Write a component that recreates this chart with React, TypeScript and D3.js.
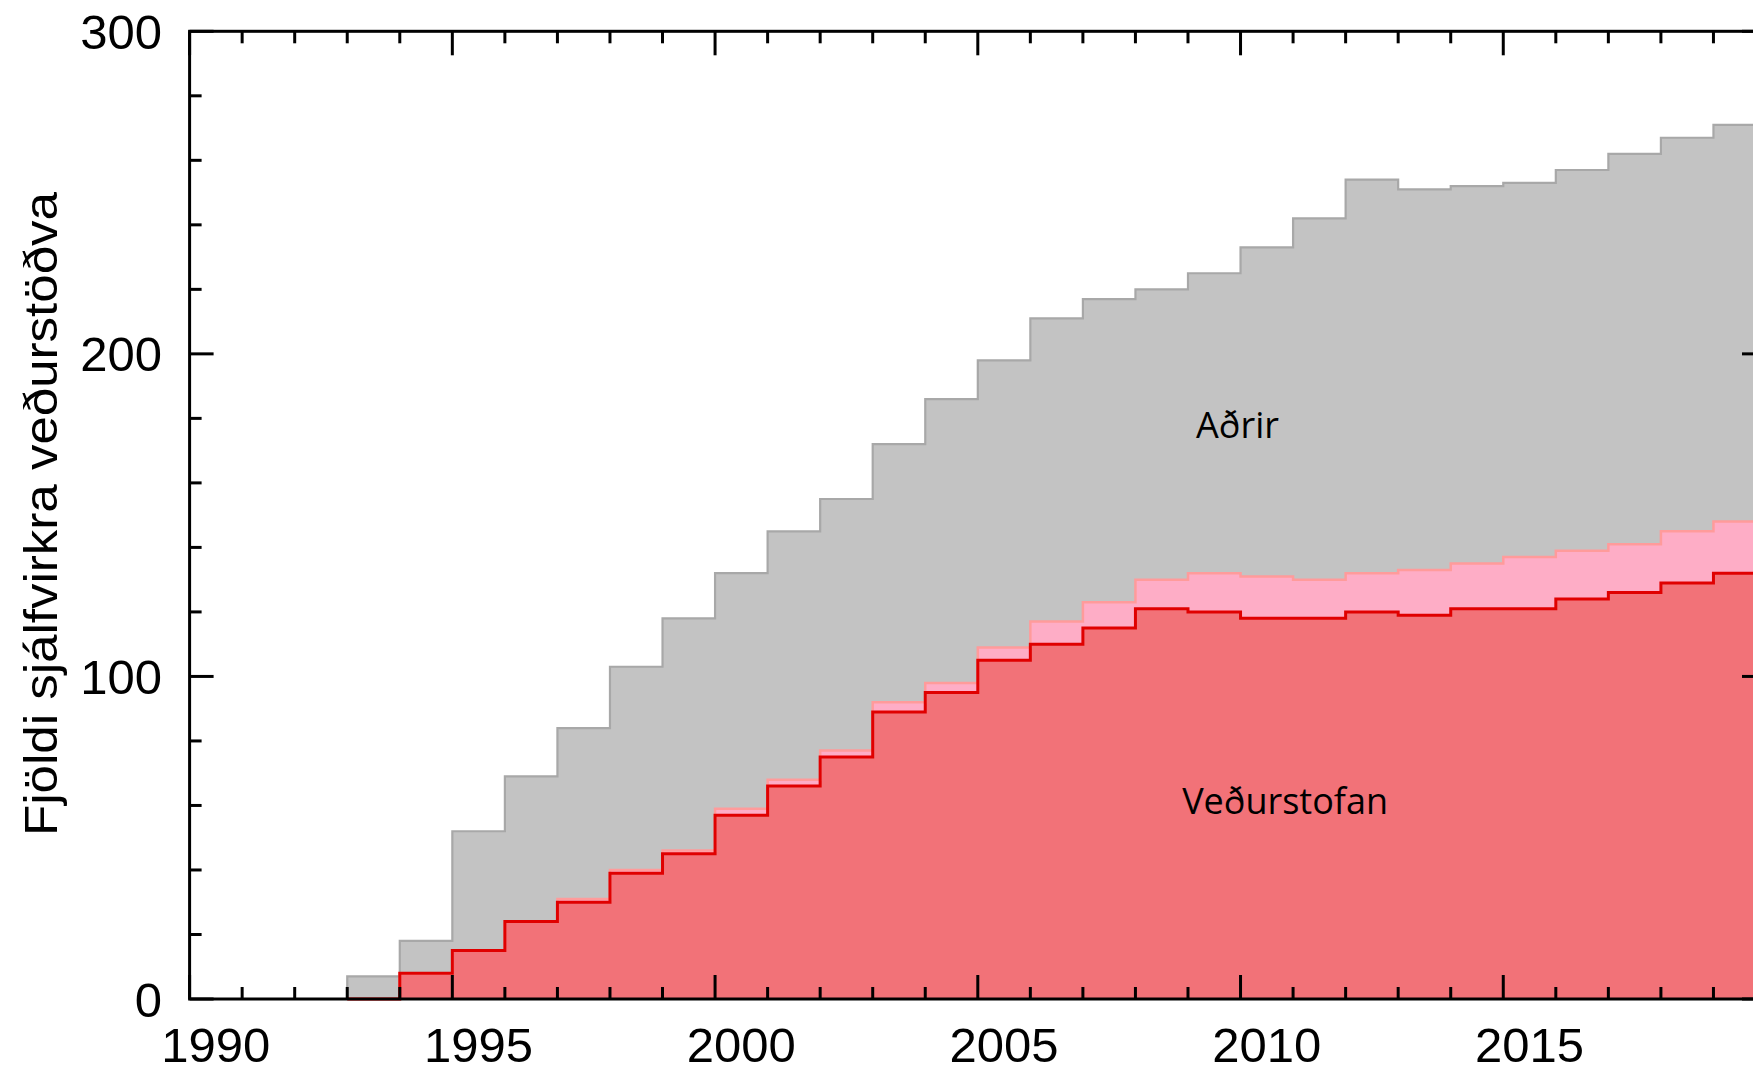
import React from "react";
import * as d3 from "d3";

const WIDTH = 1753;
const HEIGHT = 1067;
// plot frame (right edge lies just outside the picture, as in the original)
const X0 = 189.6;
const X1 = 1766;
const Y_TOP = 31.3;
const Y_BOTTOM = 999;

const YEARS = [
  1990, 1991, 1992, 1993, 1994, 1995, 1996, 1997, 1998, 1999,
  2000, 2001, 2002, 2003, 2004, 2005, 2006, 2007, 2008, 2009,
  2010, 2011, 2012, 2013, 2014, 2015, 2016, 2017, 2018, 2019,
];
// stations run by Veðurstofan
const VEDURSTOFAN = [
  0, 0, 0, 0, 8, 15, 24, 30, 39, 45,
  57, 66, 75, 89, 95, 105, 110, 115, 121, 120,
  118, 118, 120, 119, 121, 121, 124, 126, 129, 132,
];
// stations run jointly (light pink band)
const SAMSTARF = [
  0, 0, 0, 0, 0, 0, 0, 1, 1, 1,
  2, 2, 2, 3, 3, 4, 7, 8, 9, 12,
  13, 12, 12, 14, 14, 16, 15, 15, 16, 16,
];
// stations run by others
const ADRIR = [
  0, 0, 0, 7, 10, 37, 45, 53, 63, 72,
  73, 77, 78, 80, 88, 89, 94, 94, 90, 93,
  102, 112, 122, 118, 117, 116, 118, 121, 122, 123,
];
const X_LABELS = [1990, 1995, 2000, 2005, 2010, 2015];
const Y_LABELS = [0, 100, 200, 300];

const KEYS = ["vedurstofan", "samstarf", "adrir"];
const FILLS = ["#f27278", "#feadc6", "#c3c3c3"];
const STROKES = ["#e00000", "#ff9b9b", "#a8a8a8"];
const STROKE_W = [3, 2.5, 2.2];

type Row = { year: number; vedurstofan: number; samstarf: number; adrir: number };

export default function App() {
  const rows: Row[] = YEARS.map((year, i) => ({
    year,
    vedurstofan: VEDURSTOFAN[i],
    samstarf: SAMSTARF[i],
    adrir: ADRIR[i],
  }));
  // closing point so the last step runs to the end of 2019
  const last = rows[rows.length - 1];
  const rowsEnd = [...rows, { ...last, year: last.year + 1 }];

  const x = d3.scaleLinear().domain([1990, 2020]).range([X0, X1]);
  const y = d3.scaleLinear().domain([0, 300]).range([Y_BOTTOM, Y_TOP]);

  const stacked = d3.stack<Row>().keys(KEYS)(rowsEnd);

  const area = d3
    .area<d3.SeriesPoint<Row>>()
    .x((d) => x(d.data.year))
    .y0(y(0))
    .y1((d) => y(d[1]))
    .curve(d3.curveStepAfter);

  const line = d3
    .line<d3.SeriesPoint<Row>>()
    .x((d) => x(d.data.year))
    .y((d) => y(d[1]))
    .curve(d3.curveStepAfter);

  // start each outline one year before the first non-zero value
  const outline = (s: d3.Series<Row, string>) => {
    const first = s.findIndex((d) => d[1] > 0);
    return line(s.slice(Math.max(0, first - 1)));
  };

  const order = [2, 1, 0];

  const xTicks = d3.range(1990, 2021);
  const yTicks = d3.range(0, 301, 20);

  return (
    <div style={{ position: "absolute", left: 0, top: 0 }}>
      <svg width={WIDTH} height={HEIGHT} style={{ display: "block", background: "#fff" }}>
        {order.map((i) => (
          <path key={"a" + i} d={area(stacked[i]) || ""} fill={FILLS[i]} />
        ))}
        {order.map((i) => (
          <path
            key={"l" + i}
            d={outline(stacked[i]) || ""}
            fill="none"
            stroke={STROKES[i]}
            strokeWidth={STROKE_W[i]}
          />
        ))}

        <g fontFamily="'Open Sans', 'Noto Sans', sans-serif" fontSize={36} fill="#000" textAnchor="middle">
          <text x={x(2010) - 3} y={438}>
            Aðrir
          </text>
          <text x={x(2011) - 8} y={814}>
            Veðurstofan
          </text>
        </g>

        {/* frame */}
        <rect
          x={X0}
          y={Y_TOP}
          width={X1 - X0}
          height={Y_BOTTOM - Y_TOP}
          fill="none"
          stroke="#000"
          strokeWidth={3}
        />
        {xTicks.map((t) => {
          const len = t % 5 === 0 ? 24 : 12;
          return (
            <g key={"xt" + t}>
              <line x1={x(t)} x2={x(t)} y1={Y_BOTTOM} y2={Y_BOTTOM - len} stroke="#000" strokeWidth={3} />
              <line x1={x(t)} x2={x(t)} y1={Y_TOP} y2={Y_TOP + len} stroke="#000" strokeWidth={3} />
            </g>
          );
        })}
        {yTicks.map((t) => {
          const len = t % 100 === 0 ? 24 : 12;
          return (
            <g key={"yt" + t}>
              <line x1={X0} x2={X0 + len} y1={y(t)} y2={y(t)} stroke="#000" strokeWidth={3} />
              <line x1={X1} x2={X1 - len} y1={y(t)} y2={y(t)} stroke="#000" strokeWidth={3} />
            </g>
          );
        })}

        <g fontFamily="'Liberation Sans', Arial, sans-serif" fontSize={49} fill="#000">
          {X_LABELS.map((t) => (
            <text key={"xl" + t} x={x(t + 0.5)} y={1062} textAnchor="middle">
              {t}
            </text>
          ))}
          {Y_LABELS.map((t) => (
            <text key={"yl" + t} x={162} y={y(t) + 17.5} textAnchor="end">
              {t}
            </text>
          ))}
        </g>

        <text
          transform={`translate(57, 514) rotate(-90)`}
          textAnchor="middle"
          fontFamily="'Liberation Sans', Arial, sans-serif"
          fontSize={47}
          textLength={644}
          lengthAdjust="spacingAndGlyphs"
          fill="#000"
        >
          Fjöldi sjálfvirkra veðurstöðva
        </text>
      </svg>
    </div>
  );
}
